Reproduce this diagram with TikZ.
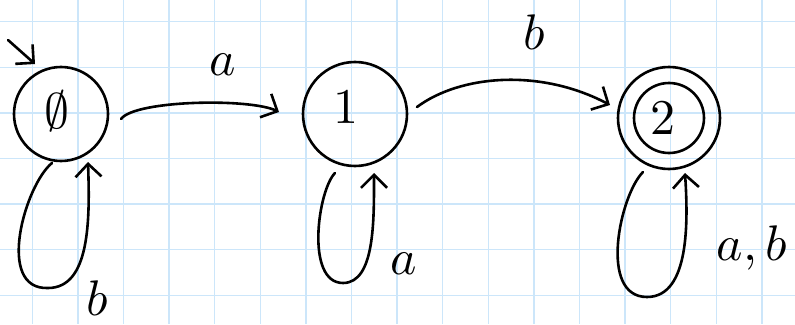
\documentclass[tikz,border=0pt]{standalone}
\usepackage{graphicx}
\usetikzlibrary{arrows.meta,calc}
\definecolor{gridblue}{RGB}{204,230,250}
\newcommand{\hugemath}[1]{\scalebox{5}{$#1$}}
\tikzset{
  stroke/.style={line width=2.6pt, line cap=round, line join=round},
  edge/.style={stroke, -{Straight Barb[length=13pt,width=26pt]}},
  statebox/.style={stroke, draw, circle, inner sep=0pt},
  lbl/.style={inner sep=0pt},
}
\begin{document}
\begin{tikzpicture}[x=1pt,y=-1pt]
\useasboundingbox (0,0) rectangle (795,324);
\fill[white] (0,0) rectangle (795,324);
% grid
\foreach \k in {0,...,16} {
  \draw[gridblue, line width=1.5pt] ({32.3+45.6*\k},0) -- ({32.3+45.6*\k},324);
}
\foreach \k in {0,...,6} {
  \draw[gridblue, line width=1.5pt] (0,{21.7+45.6*\k}) -- (795,{21.7+45.6*\k});
}
% states
\node[statebox, minimum size=94pt] (s0) at (61,114) {};
\node[statebox, minimum size=104pt] (s1) at (355,114) {};
\node[statebox, minimum size=102pt] (s2) at (669,118) {};
\draw[stroke] (s2.center) circle (35pt);
% state texts
\node[lbl] (t0) at (57,111) {\hugemath{\emptyset}};
\node[lbl] (t1) at (346,107) {\hugemath{1}};
\node[lbl] (t2) at (663,118) {\hugemath{2}};
% initial arrow
\coordinate (init) at (8,40);
\draw[edge] (init) -- ($(s0)+(-26,-50)$);
% transitions
\draw[edge] ($(s0)+(60,5)$) .. controls ($(s0)+(74,-14)$) and ($(s1)+(-105,-16)$) .. ($(s1)+(-76,-2)$);
\draw[edge] ($(s1)+(62,-7)$) .. controls ($(s1)+(105,-39)$) and ($(s2)+(-129,-50)$) .. ($(s2)+(-59,-13)$);
% self loops
\draw[edge] ($(s0)+(-9,49)$) .. controls ($(s0)+(-36,71)$) and ($(s0)+(-66,176)$) .. ($(s0)+(-13,174)$)
  .. controls ($(s0)+(29,174)$) and ($(s0)+(29,106)$) .. ($(s0)+(27,48)$);
\draw[edge] ($(s1)+(-20,59)$) .. controls ($(s1)+(-37,76)$) and ($(s1)+(-50,169)$) .. ($(s1)+(-12,169)$)
  .. controls ($(s1)+(20,169)$) and ($(s1)+(19,106)$) .. ($(s1)+(19,59)$);
\draw[edge] ($(s2)+(-26,54)$) .. controls ($(s2)+(-49,77)$) and ($(s2)+(-71,179)$) .. ($(s2)+(-22,179)$)
  .. controls ($(s2)+(21,179)$) and ($(s2)+(19,102)$) .. ($(s2)+(16,55)$);
% labels
\node[lbl] (la01) at (223,65) {\hugemath{a}};
\node[lbl] (lb12) at (534,32) {\hugemath{b}};
\node[lbl] (lb00) at (97,298) {\hugemath{b}};
\node[lbl] (la11) at (404,264) {\hugemath{a}};
\node[lbl] (lab22) at (752,248) {\hugemath{a,b}};
\end{tikzpicture}
\end{document}
